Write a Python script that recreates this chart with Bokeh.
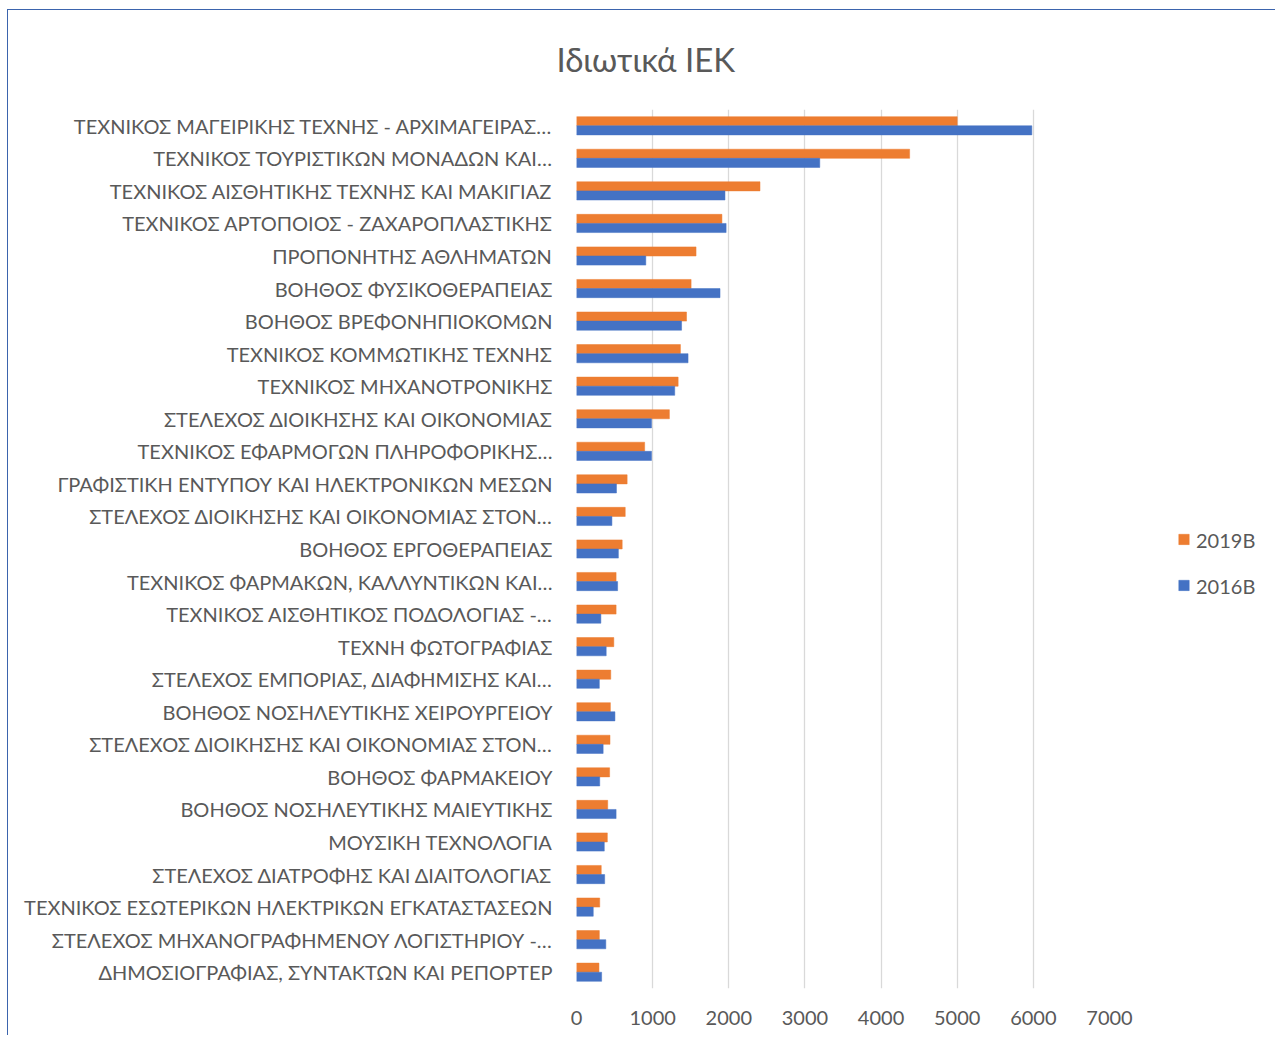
from bokeh.plotting import figure
from bokeh.models import (FactorRange, Range1d, Legend, LegendItem,
                          ColumnDataSource, FixedTicker)
from bokeh.transform import dodge
from bokeh.embed import file_html
from bokeh.resources import INLINE

labels = [
    "ΤΕΧΝΙΚΟΣ ΜΑΓΕΙΡΙΚΗΣ ΤΕΧΝΗΣ - ΑΡΧΙΜΑΓΕΙΡΑΣ…",
    "ΤΕΧΝΙΚΟΣ ΤΟΥΡΙΣΤΙΚΩΝ ΜΟΝΑΔΩΝ ΚΑΙ…",
    "ΤΕΧΝΙΚΟΣ ΑΙΣΘΗΤΙΚΗΣ ΤΕΧΝΗΣ ΚΑΙ ΜΑΚΙΓΙΑΖ",
    "ΤΕΧΝΙΚΟΣ ΑΡΤΟΠΟΙΟΣ - ΖΑΧΑΡΟΠΛΑΣΤΙΚΗΣ",
    "ΠΡΟΠΟΝΗΤΗΣ ΑΘΛΗΜΑΤΩΝ",
    "ΒΟΗΘΟΣ ΦΥΣΙΚΟΘΕΡΑΠΕΙΑΣ",
    "ΒΟΗΘΟΣ ΒΡΕΦΟΝΗΠΙΟΚΟΜΩΝ",
    "ΤΕΧΝΙΚΟΣ ΚΟΜΜΩΤΙΚΗΣ ΤΕΧΝΗΣ",
    "ΤΕΧΝΙΚΟΣ ΜΗΧΑΝΟΤΡΟΝΙΚΗΣ",
    "ΣΤΕΛΕΧΟΣ ΔΙΟΙΚΗΣΗΣ ΚΑΙ ΟΙΚΟΝΟΜΙΑΣ",
    "ΤΕΧΝΙΚΟΣ ΕΦΑΡΜΟΓΩΝ ΠΛΗΡΟΦΟΡΙΚΗΣ…",
    "ΓΡΑΦΙΣΤΙΚΗ ΕΝΤΥΠΟΥ ΚΑΙ ΗΛΕΚΤΡΟΝΙΚΩΝ ΜΕΣΩΝ",
    "ΣΤΕΛΕΧΟΣ ΔΙΟΙΚΗΣΗΣ ΚΑΙ ΟΙΚΟΝΟΜΙΑΣ ΣΤΟΝ…",
    "ΒΟΗΘΟΣ ΕΡΓΟΘΕΡΑΠΕΙΑΣ",
    "ΤΕΧΝΙΚΟΣ ΦΑΡΜΑΚΩΝ, ΚΑΛΛΥΝΤΙΚΩΝ ΚΑΙ…",
    "ΤΕΧΝΙΚΟΣ ΑΙΣΘΗΤΙΚΟΣ ΠΟΔΟΛΟΓΙΑΣ -…",
    "ΤΕΧΝΗ ΦΩΤΟΓΡΑΦΙΑΣ",
    "ΣΤΕΛΕΧΟΣ ΕΜΠΟΡΙΑΣ, ΔΙΑΦΗΜΙΣΗΣ ΚΑΙ…",
    "ΒΟΗΘΟΣ ΝΟΣΗΛΕΥΤΙΚΗΣ ΧΕΙΡΟΥΡΓΕΙΟΥ",
    "ΣΤΕΛΕΧΟΣ ΔΙΟΙΚΗΣΗΣ ΚΑΙ ΟΙΚΟΝΟΜΙΑΣ ΣΤΟΝ…\u200b",
    "ΒΟΗΘΟΣ ΦΑΡΜΑΚΕΙΟΥ",
    "ΒΟΗΘΟΣ ΝΟΣΗΛΕΥΤΙΚΗΣ ΜΑΙΕΥΤΙΚΗΣ",
    "ΜΟΥΣΙΚΗ ΤΕΧΝΟΛΟΓΙΑ",
    "ΣΤΕΛΕΧΟΣ ΔΙΑΤΡΟΦΗΣ ΚΑΙ ΔΙΑΙΤΟΛΟΓΙΑΣ",
    "ΤΕΧΝΙΚΟΣ ΕΣΩΤΕΡΙΚΩΝ ΗΛΕΚΤΡΙΚΩΝ ΕΓΚΑΤΑΣΤΑΣΕΩΝ",
    "ΣΤΕΛΕΧΟΣ ΜΗΧΑΝΟΓΡΑΦΗΜΕΝΟΥ ΛΟΓΙΣΤΗΡΙΟΥ -…",
    "ΔΗΜΟΣΙΟΓΡΑΦΙΑΣ, ΣΥΝΤΑΚΤΩΝ ΚΑΙ ΡΕΠΟΡΤΕΡ",
]

values_2019B = [5000, 4375, 2410, 1910, 1570, 1505, 1445, 1365, 1335, 1220,
                895, 665, 640, 600, 520, 520, 490, 450, 445, 440,
                435, 410, 405, 325, 305, 300, 295]
values_2016B = [5980, 3195, 1950, 1965, 910, 1885, 1380, 1465, 1290, 985,
                985, 525, 465, 550, 540, 320, 390, 300, 505, 350,
                305, 520, 365, 370, 220, 385, 330]

series_names = ["2019B", "2016B"]
x_ticks = [0, 1000, 2000, 3000, 4000, 5000, 6000, 7000]

FONT = "Lato"
GREY = "#595959"

src = ColumnDataSource(dict(cat=labels, v2019=values_2019B, v2016=values_2016B))

p = figure(width=1266, height=1025,
           frame_width=533, frame_height=879,
           y_range=FactorRange(factors=labels[::-1]),
           x_range=Range1d(0, 7000),
           output_backend="svg", toolbar_location=None,
           min_border_left=568, min_border_right=165,
           min_border_top=99, min_border_bottom=47)

p.styles = {"border-top": "1px solid #3B64AD", "border-left": "1px solid #3B64AD",
            "margin-left": "7px", "margin-top": "9px"}

r1 = p.hbar(y=dodge("cat", 0.14, range=p.y_range), left=0, right="v2019",
            height=0.28, source=src, fill_color="#ED7D31", line_color="#ED7D31",
            line_width=0.5)
r2 = p.hbar(y=dodge("cat", -0.14, range=p.y_range), left=0, right="v2016",
            height=0.28, source=src, fill_color="#4472C4", line_color="#4472C4",
            line_width=0.5)

p.outline_line_color = None
p.ygrid.visible = False
p.xgrid.grid_line_color = "#D9D9D9"
p.xgrid.grid_line_width = 1.3
p.xaxis.ticker = FixedTicker(ticks=x_ticks)

p.xaxis.axis_line_color = None
p.xaxis.major_tick_line_color = None
p.xaxis.minor_tick_line_color = None
p.xaxis.major_tick_out = 0
p.xaxis.major_tick_in = 0
p.xaxis.major_label_standoff = 22
p.xaxis.major_label_text_font = FONT
p.xaxis.major_label_text_font_size = "20px"
p.xaxis.major_label_text_color = GREY

p.yaxis.axis_line_color = None
p.yaxis.major_tick_line_color = None
p.yaxis.major_tick_out = 0
p.yaxis.major_tick_in = 0
p.yaxis.major_label_standoff = 24
p.yaxis.major_label_text_font = FONT
p.yaxis.major_label_text_font_size = "20px"
p.yaxis.major_label_text_color = GREY

p.title.text = "Ιδιωτικά ΙΕΚ"
p.title.text_font = FONT
p.title.text_font_style = "normal"
p.title.text_font_size = "33px"
p.title.text_color = GREY
p.title.align = "left"
p.title.vertical_align = "top"
p.title.offset = -20
p.title.standoff = 57

legend = Legend(items=[LegendItem(label=series_names[0], renderers=[r1]),
                       LegendItem(label=series_names[1], renderers=[r2])],
                location="center_left", orientation="vertical",
                title=" ", title_text_font_size="20px", title_standoff=4,
                glyph_width=13, glyph_height=13, label_standoff=6,
                spacing=22, padding=0, margin=68,
                label_text_font=FONT, label_text_font_size="20px",
                label_text_color=GREY, border_line_color=None,
                background_fill_alpha=0)
p.add_layout(legend, "right")

open("out.html", "w").write(file_html(p, INLINE))
